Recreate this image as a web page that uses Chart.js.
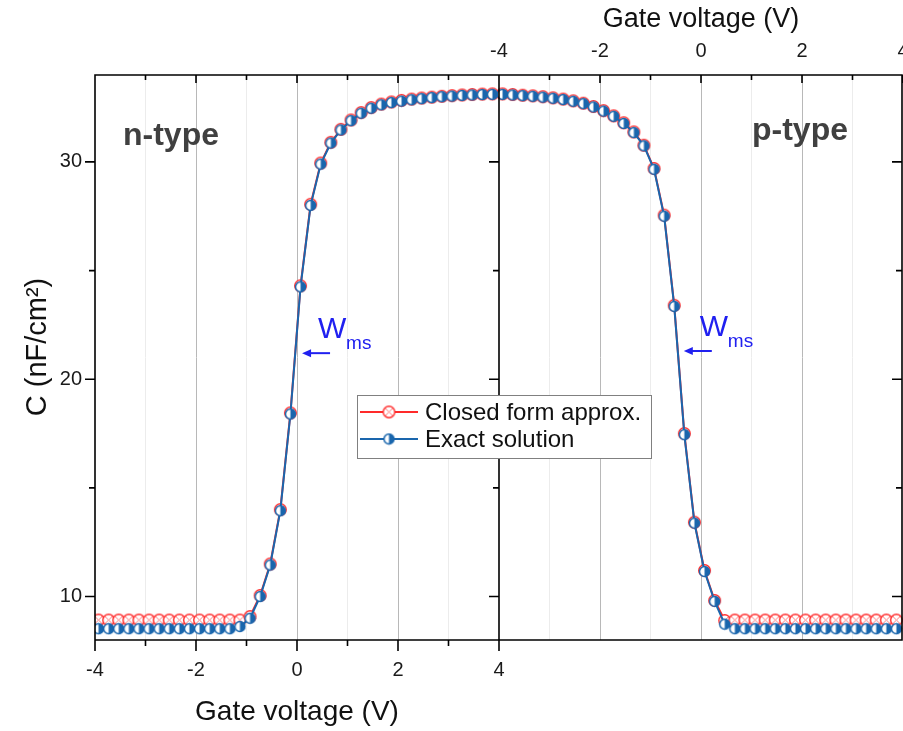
<!DOCTYPE html>
<html>
<head>
<meta charset="utf-8">
<title>C-V curves</title>
<script src="https://cdn.jsdelivr.net/npm/chart.js@4.4.0/dist/chart.umd.min.js"></script>
<style>
  html, body { margin: 0; padding: 0; background: #fff; }
  #wrap { width: 903px; height: 731px; }
</style>
</head>
<body>
<div id="wrap"><canvas id="cvChart" width="903" height="731"></canvas></div>
<script>
// gate voltage samples (same grid for both panels)
const gateV = [-3.93, -3.73, -3.53, -3.33, -3.13, -2.93, -2.73, -2.53, -2.33, -2.13,
  -1.93, -1.73, -1.53, -1.33, -1.13, -0.93, -0.73, -0.53, -0.33, -0.13,
  0.07, 0.27, 0.47, 0.67, 0.87, 1.07, 1.27, 1.47, 1.67, 1.87,
  2.07, 2.27, 2.47, 2.67, 2.87, 3.07, 3.27, 3.47, 3.67, 3.87];

// n-type, bottom axis
const nClosed = [8.92, 8.92, 8.92, 8.92, 8.92, 8.92, 8.92, 8.92, 8.92, 8.92,
  8.92, 8.92, 8.92, 8.92, 8.92, 9.08, 10.05, 11.5, 14.0, 18.45,
  24.3, 28.05, 29.95, 30.9, 31.5, 31.93, 32.27, 32.5, 32.66, 32.76,
  32.83, 32.89, 32.94, 32.98, 33.02, 33.05, 33.08, 33.1, 33.12, 33.13];
const nExact = [8.52, 8.52, 8.52, 8.52, 8.52, 8.52, 8.52, 8.52, 8.52, 8.52,
  8.52, 8.52, 8.52, 8.52, 8.62, 9.0, 10.0, 11.45, 13.95, 18.4,
  24.25, 28.0, 29.9, 30.87, 31.47, 31.9, 32.24, 32.47, 32.63, 32.73,
  32.8, 32.86, 32.91, 32.96, 33.0, 33.03, 33.06, 33.08, 33.1, 33.11];

// p-type, top axis
const pClosed = [33.13, 33.1, 33.07, 33.04, 33.0, 32.95, 32.89, 32.81, 32.7, 32.55,
  32.36, 32.12, 31.8, 31.38, 30.77, 29.7, 27.55, 23.4, 17.5, 13.42,
  11.2, 9.82, 8.9, 8.92, 8.92, 8.92, 8.92, 8.92, 8.92, 8.92,
  8.92, 8.92, 8.92, 8.92, 8.92, 8.92, 8.92, 8.92, 8.92, 8.92];
const pExact = [33.11, 33.08, 33.05, 33.02, 32.98, 32.93, 32.87, 32.79, 32.68, 32.53,
  32.34, 32.1, 31.77, 31.35, 30.74, 29.66, 27.5, 23.35, 17.45, 13.38,
  11.15, 9.78, 8.73, 8.52, 8.52, 8.52, 8.52, 8.52, 8.52, 8.52,
  8.52, 8.52, 8.52, 8.52, 8.52, 8.52, 8.52, 8.52, 8.52, 8.52];

const xMajor = [-4, -2, 0, 2, 4];
const xMinor = [-3, -1, 1, 3];
const yMajor = [10, 20, 30];
const yMinor = [15, 25];
const seriesNames = ['Closed form approx.', 'Exact solution'];

const RED = '#ff2a2a';
const BLUE = '#1a66ad';
const FONT = "'Liberation Sans', Arial, sans-serif";

// marker images
function redMark() {
  const c = document.createElement('canvas');
  c.width = 15; c.height = 15;
  const g = c.getContext('2d');
  g.fillStyle = '#fff';
  g.strokeStyle = RED;
  g.lineWidth = 1.4;
  g.beginPath(); g.arc(7.5, 7.5, 5.8, 0, Math.PI * 2); g.fill(); g.stroke();
  g.strokeStyle = '#ff7a7a';
  g.lineWidth = 1;
  g.beginPath();
  g.moveTo(4, 4); g.lineTo(11, 11);
  g.moveTo(11, 4); g.lineTo(4, 11);
  g.stroke();
  return c;
}
function blueMark() {
  const c = document.createElement('canvas');
  c.width = 13; c.height = 13;
  const g = c.getContext('2d');
  g.fillStyle = '#fff';
  g.beginPath(); g.arc(6.5, 6.5, 5, 0, Math.PI * 2); g.fill();
  g.fillStyle = BLUE;
  g.beginPath(); g.arc(6.5, 6.5, 5, -Math.PI / 2, Math.PI / 2); g.closePath(); g.fill();
  g.strokeStyle = BLUE; g.lineWidth = 1.5;
  g.beginPath(); g.arc(6.5, 6.5, 5, 0, Math.PI * 2); g.stroke();
  return c;
}
const redPt = redMark();
const bluePt = blueMark();

function pts(ys) { return gateV.map((v, i) => ({ x: v, y: ys[i] })); }

function gridCol(ctx) {
  const v = ctx.tick ? ctx.tick.value : null;
  if (v === null || Math.abs(v) >= 4) return 'rgba(0,0,0,0)';
  if (xMajor.includes(v)) return '#b8b8b8';
  if (xMinor.includes(v)) return '#ececec';
  return 'rgba(0,0,0,0)';
}
function xTicks(s) {
  s.ticks = xMajor.concat(xMinor).sort((a, b) => a - b).map(v => ({ value: v }));
}
function xLabel(v) { return xMajor.includes(v) ? String(v) : ''; }

// frame, tick marks, titles, legend and notes
const decorate = {
  id: 'decorate',
  afterDatasetsDraw(chart) {
    const ctx = chart.ctx;
    const ca = chart.chartArea;
    const sx = chart.scales.x, sx2 = chart.scales.x2, sy = chart.scales.y;
    ctx.save();
    ctx.strokeStyle = '#000';
    ctx.lineWidth = 1.6;
    const mid = sx.getPixelForValue(4);
    const rx = ca.right - 1;
    ctx.beginPath();
    ctx.rect(ca.left, ca.top, rx - ca.left, ca.bottom - ca.top);
    ctx.moveTo(mid, ca.top); ctx.lineTo(mid, ca.bottom);
    // bottom ticks (outward), top ticks (inward)
    xMajor.concat(xMinor).forEach(v => {
      const big = xMajor.includes(v);
      const px = sx.getPixelForValue(v);
      ctx.moveTo(px, ca.bottom); ctx.lineTo(px, ca.bottom + (big ? 11 : 6));
      ctx.moveTo(px, ca.top); ctx.lineTo(px, ca.top + (big ? 8 : 5));
      const px2 = sx2.getPixelForValue(v);
      ctx.moveTo(px2, ca.top); ctx.lineTo(px2, ca.top + (big ? 8 : 5));
    });
    // y ticks: left (outward), middle and right (pointing left)
    yMajor.concat(yMinor).forEach(v => {
      const len = yMajor.includes(v) ? 10 : 6;
      const py = sy.getPixelForValue(v);
      ctx.moveTo(ca.left, py); ctx.lineTo(ca.left - len, py);
      ctx.moveTo(mid, py); ctx.lineTo(mid - len, py);
      ctx.moveTo(rx, py); ctx.lineTo(rx - len, py);
    });
    ctx.stroke();

    // axis titles
    ctx.fillStyle = '#111';
    ctx.textAlign = 'center';
    ctx.textBaseline = 'alphabetic';
    ctx.font = '28px ' + FONT;
    ctx.fillText('Gate voltage (V)', sx.getPixelForValue(0), 720);
    ctx.font = '27px ' + FONT;
    ctx.fillText('Gate voltage (V)', sx2.getPixelForValue(0), 27);
    ctx.save();
    ctx.translate(46, 347);
    ctx.rotate(-Math.PI / 2);
    ctx.font = '29px ' + FONT;
    ctx.fillText('C (nF/cm\u00B2)', 0, 0);
    ctx.restore();

    // panel labels
    ctx.fillStyle = '#404040';
    ctx.textAlign = 'left';
    ctx.font = 'bold 32px ' + FONT;
    ctx.fillText('n-type', 123, 145);
    ctx.fillText('p-type', 752, 140);

    // W_ms notes with arrows
    ctx.fillStyle = '#2020f0';
    ctx.strokeStyle = '#2020f0';
    ctx.lineWidth = 2;
    [{ tx: sx.getPixelForValue(0.1), ty: sy.getPixelForValue(21.2) },
     { tx: sx2.getPixelForValue(-0.34), ty: sy.getPixelForValue(21.3) }].forEach(a => {
      ctx.beginPath(); ctx.moveTo(a.tx + 6, a.ty); ctx.lineTo(a.tx + 28, a.ty); ctx.stroke();
      ctx.beginPath(); ctx.moveTo(a.tx, a.ty); ctx.lineTo(a.tx + 9, a.ty - 4); ctx.lineTo(a.tx + 9, a.ty + 4);
      ctx.closePath(); ctx.fill();
      ctx.font = '30px ' + FONT;
      ctx.fillText('W', a.tx + 16, a.ty - 15);
      ctx.font = '19px ' + FONT;
      ctx.fillText('ms', a.tx + 44, a.ty - 4);
    });

    // legend box
    const lx = 357, ly = 395, lw = 294, lh = 63;
    ctx.fillStyle = '#fff';
    ctx.fillRect(lx, ly, lw, lh);
    ctx.strokeStyle = '#808080';
    ctx.lineWidth = 1;
    ctx.strokeRect(lx + 0.5, ly + 0.5, lw, lh);
    [[RED, redPt, 412], [BLUE, bluePt, 439]].forEach((r, i) => {
      ctx.strokeStyle = r[0];
      ctx.lineWidth = 2;
      ctx.beginPath(); ctx.moveTo(lx + 3, r[2]); ctx.lineTo(lx + 61, r[2]); ctx.stroke();
      ctx.drawImage(r[1], lx + 32 - r[1].width / 2, r[2] - r[1].height / 2);
      ctx.fillStyle = '#111';
      ctx.font = '24px ' + FONT;
      ctx.textBaseline = 'middle';
      ctx.fillText(seriesNames[i], lx + 68, r[2] + 1);
    });
    ctx.restore();
  }
};

new Chart(document.getElementById('cvChart'), {
  type: 'line',
  data: {
    datasets: [
      { label: seriesNames[1], data: pts(nExact), xAxisID: 'x', yAxisID: 'y',
        borderColor: BLUE, borderWidth: 2, pointStyle: bluePt, pointRadius: 5, order: 0 },
      { label: seriesNames[1], data: pts(pExact), xAxisID: 'x2', yAxisID: 'y',
        borderColor: BLUE, borderWidth: 2, pointStyle: bluePt, pointRadius: 5, order: 0 },
      { label: seriesNames[0], data: pts(nClosed), xAxisID: 'x', yAxisID: 'y',
        borderColor: RED, borderWidth: 2, pointStyle: redPt, pointRadius: 5, order: 1 },
      { label: seriesNames[0], data: pts(pClosed), xAxisID: 'x2', yAxisID: 'y',
        borderColor: RED, borderWidth: 2, pointStyle: redPt, pointRadius: 5, order: 1 }
    ]
  },
  options: {
    responsive: false,
    animation: false,
    layout: { padding: 0, autoPadding: false },
    plugins: { legend: { display: false }, tooltip: { enabled: false } },
    scales: {
      x: {
        type: 'linear', position: 'bottom', min: -4, max: 12,
        afterBuildTicks: xTicks,
        afterFit: s => { s.height = 91; s.paddingLeft = 0; s.paddingRight = 0; },
        ticks: { autoSkip: false, maxRotation: 0, padding: 18, callback: xLabel,
          color: '#1a1a1a', font: { family: FONT, size: 20 } },
        grid: { drawTicks: false, color: gridCol, lineWidth: 1 },
        border: { display: false }
      },
      x2: {
        type: 'linear', position: 'top', min: -12, max: 4,
        afterBuildTicks: xTicks,
        afterFit: s => { s.height = 75; s.paddingLeft = 0; s.paddingRight = 0; },
        ticks: { autoSkip: false, maxRotation: 0, padding: 12, callback: xLabel,
          color: '#1a1a1a', font: { family: FONT, size: 20 } },
        grid: { drawTicks: false, color: gridCol, lineWidth: 1 },
        border: { display: false }
      },
      y: {
        type: 'linear', position: 'left', min: 8, max: 34,
        afterBuildTicks: s => { s.ticks = yMajor.concat(yMinor).sort((a, b) => a - b).map(v => ({ value: v })); },
        afterFit: s => { s.width = 95; s.paddingTop = 0; s.paddingBottom = 0; },
        ticks: { padding: 13, callback: v => yMajor.includes(v) ? String(v) : '',
          color: '#1a1a1a', font: { family: FONT, size: 20 } },
        grid: { display: false, drawTicks: false },
        border: { display: false }
      }
    }
  },
  plugins: [decorate]
});
</script>
</body>
</html>
